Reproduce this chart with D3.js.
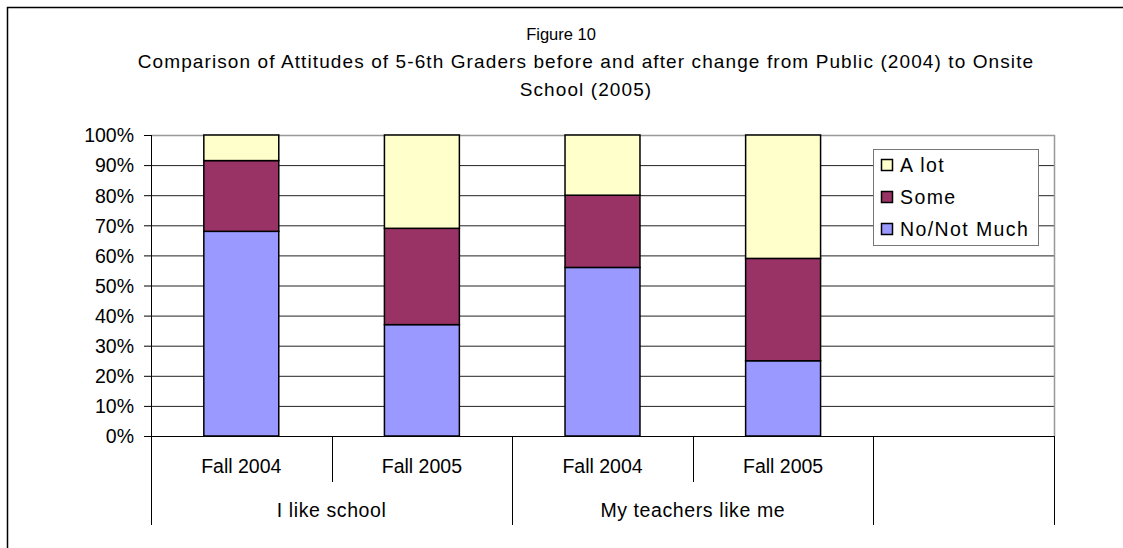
<!DOCTYPE html>
<html lang="en">
<head>
<meta charset="utf-8">
<title>Figure 10</title>
<style>
  body { margin: 0; background: #fff; }
  svg { font-family: "Liberation Sans", Arial, sans-serif; }
</style>
</head>
<body>
<svg class="chart" width="1123" height="548"></svg>
<script src="https://d3js.org/d3.v7.min.js"></script>
<script>
// data
var categories = ['Fall 2004', 'Fall 2005', 'Fall 2004', 'Fall 2005'];
var groups = ['I like school', 'My teachers like me'];
var noMuch = [68, 37, 56, 25];
var some = [23.5, 32, 24, 34];
var aLot = [8.5, 31, 20, 41];
var seriesNames = ['No/Not Much', 'Some', 'A lot'];
var yTicks = [0, 10, 20, 30, 40, 50, 60, 70, 80, 90, 100];

var colors = {'No/Not Much': '#9999ff', 'Some': '#993366', 'A lot': '#ffffcc'};

var rows = categories.map(function(c, i) {
  return {idx: i, cat: c, 'No/Not Much': noMuch[i], 'Some': some[i], 'A lot': aLot[i]};
});

var svg = d3.select('.chart');
var plot = {left: 151, right: 1054, top: 135, bottom: 436};
var fs = 19.5;

// outer frame (cut off at right and bottom like the source)
svg.append('path')
  .attr('d', 'M7.5,548 V7.5 H1123')
  .attr('fill', 'none').attr('stroke', '#000').attr('stroke-width', 1.5);

// title
var title = svg.append('g').attr('text-anchor', 'middle').attr('fill', '#000');
title.append('text').attr('x', 561).attr('y', 40).attr('font-size', 16.5).text('Figure 10');
title.append('text').attr('x', 586).attr('y', 68).attr('font-size', 19).attr('letter-spacing', 1.1)
  .text('Comparison of Attitudes of 5-6th Graders before and after change from Public (2004) to Onsite');
title.append('text').attr('x', 586).attr('y', 96).attr('font-size', 19).attr('letter-spacing', 1.1)
  .text('School (2005)');

// scales: 5 bands, the last one left empty
var x = d3.scaleBand()
  .domain(d3.range(5))
  .range([plot.left, plot.right])
  .padding(0);

var y = d3.scaleLinear().domain([0, 100]).range([plot.bottom, plot.top]);

var barW = x.bandwidth() * 0.415;

// gridlines
svg.append('g').selectAll('line')
  .data(yTicks.filter(function(t) { return t > 0 && t < 100; }))
  .enter().append('line')
  .attr('x1', plot.left).attr('x2', plot.right)
  .attr('y1', function(d) { return y(d) + 0.5; })
  .attr('y2', function(d) { return y(d) + 0.5; })
  .attr('stroke', '#222').attr('stroke-width', 1);

// plot border (top + right) gray
svg.append('path')
  .attr('d', 'M' + plot.left + ',' + (plot.top + 0.5) + ' H' + (plot.right + 0.5) + ' V' + plot.bottom)
  .attr('fill', 'none').attr('stroke', '#999').attr('stroke-width', 1.5);

// stacked bars
var stack = d3.stack().keys(seriesNames);
var stacked = stack(rows);

svg.append('g').selectAll('g')
  .data(stacked)
  .enter().append('g')
  .attr('fill', function(d) { return colors[d.key]; })
  .selectAll('rect')
  .data(function(d) { return d; })
  .enter().append('rect')
  .attr('x', function(d) { return x(d.data.idx) + (x.bandwidth() - barW) / 2; })
  .attr('width', barW)
  .attr('y', function(d) { return y(d[1]); })
  .attr('height', function(d) { return y(d[0]) - y(d[1]); })
  .attr('stroke', '#000').attr('stroke-width', 1.5);

// y axis
var yAxis = svg.append('g')
  .attr('transform', 'translate(' + plot.left + ',0)')
  .call(d3.axisLeft(y).tickValues(yTicks).tickSize(7).tickPadding(10)
    .tickFormat(function(d) { return d + '%'; }));
yAxis.select('.domain').remove();
yAxis.selectAll('.tick line').attr('stroke', '#000');
yAxis.selectAll('text').attr('font-size', fs).attr('font-family', '"Liberation Sans", Arial, sans-serif')
  .attr('fill', '#000').attr('dy', '0.35em');
svg.append('line')
  .attr('x1', plot.left + 0.5).attr('x2', plot.left + 0.5)
  .attr('y1', plot.top).attr('y2', 525)
  .attr('stroke', '#000');

// x axis baseline
svg.append('line')
  .attr('x1', plot.left).attr('x2', plot.right)
  .attr('y1', plot.bottom + 0.5).attr('y2', plot.bottom + 0.5)
  .attr('stroke', '#000');

// category separators: short between categories, long between groups
svg.append('g').selectAll('line')
  .data(d3.range(1, 6))
  .enter().append('line')
  .attr('x1', function(i) { return Math.round(x(i - 1) + x.bandwidth()) + 0.5; })
  .attr('x2', function(i) { return Math.round(x(i - 1) + x.bandwidth()) + 0.5; })
  .attr('y1', plot.bottom)
  .attr('y2', function(i) { return (i % 2 === 0 || i === 5) ? 525 : 482; })
  .attr('stroke', '#000');

// category labels
svg.append('g').selectAll('text')
  .data(rows)
  .enter().append('text')
  .attr('x', function(d) { return x(d.idx) + x.bandwidth() / 2; })
  .attr('y', 473)
  .attr('text-anchor', 'middle').attr('font-size', fs)
  .text(function(d) { return d.cat; });

// group labels
svg.append('g').selectAll('text')
  .data(groups)
  .enter().append('text')
  .attr('x', function(d, i) { return x(i * 2) + x.bandwidth(); })
  .attr('y', 517)
  .attr('text-anchor', 'middle').attr('font-size', fs).attr('letter-spacing', 0.6)
  .text(function(d) { return d; });

// legend
var legend = svg.append('g').attr('transform', 'translate(873,149)');
legend.append('rect')
  .attr('x', 0.5).attr('y', 0.5).attr('width', 165).attr('height', 96)
  .attr('fill', '#fff').attr('stroke', '#777');
var items = legend.selectAll('g.item')
  .data(seriesNames.slice().reverse())
  .enter().append('g')
  .attr('transform', function(d, i) { return 'translate(0,' + (16 + i * 32) + ')'; });
items.append('rect')
  .attr('x', 8.5).attr('y', -5.5).attr('width', 11).attr('height', 11)
  .attr('fill', function(d) { return colors[d]; })
  .attr('stroke', '#000').attr('stroke-width', 1.5);
items.append('text')
  .attr('x', 27).attr('y', 0).attr('dy', '0.35em')
  .attr('font-size', fs).attr('letter-spacing', 1.4)
  .text(function(d) { return d; });
</script>
</body>
</html>
